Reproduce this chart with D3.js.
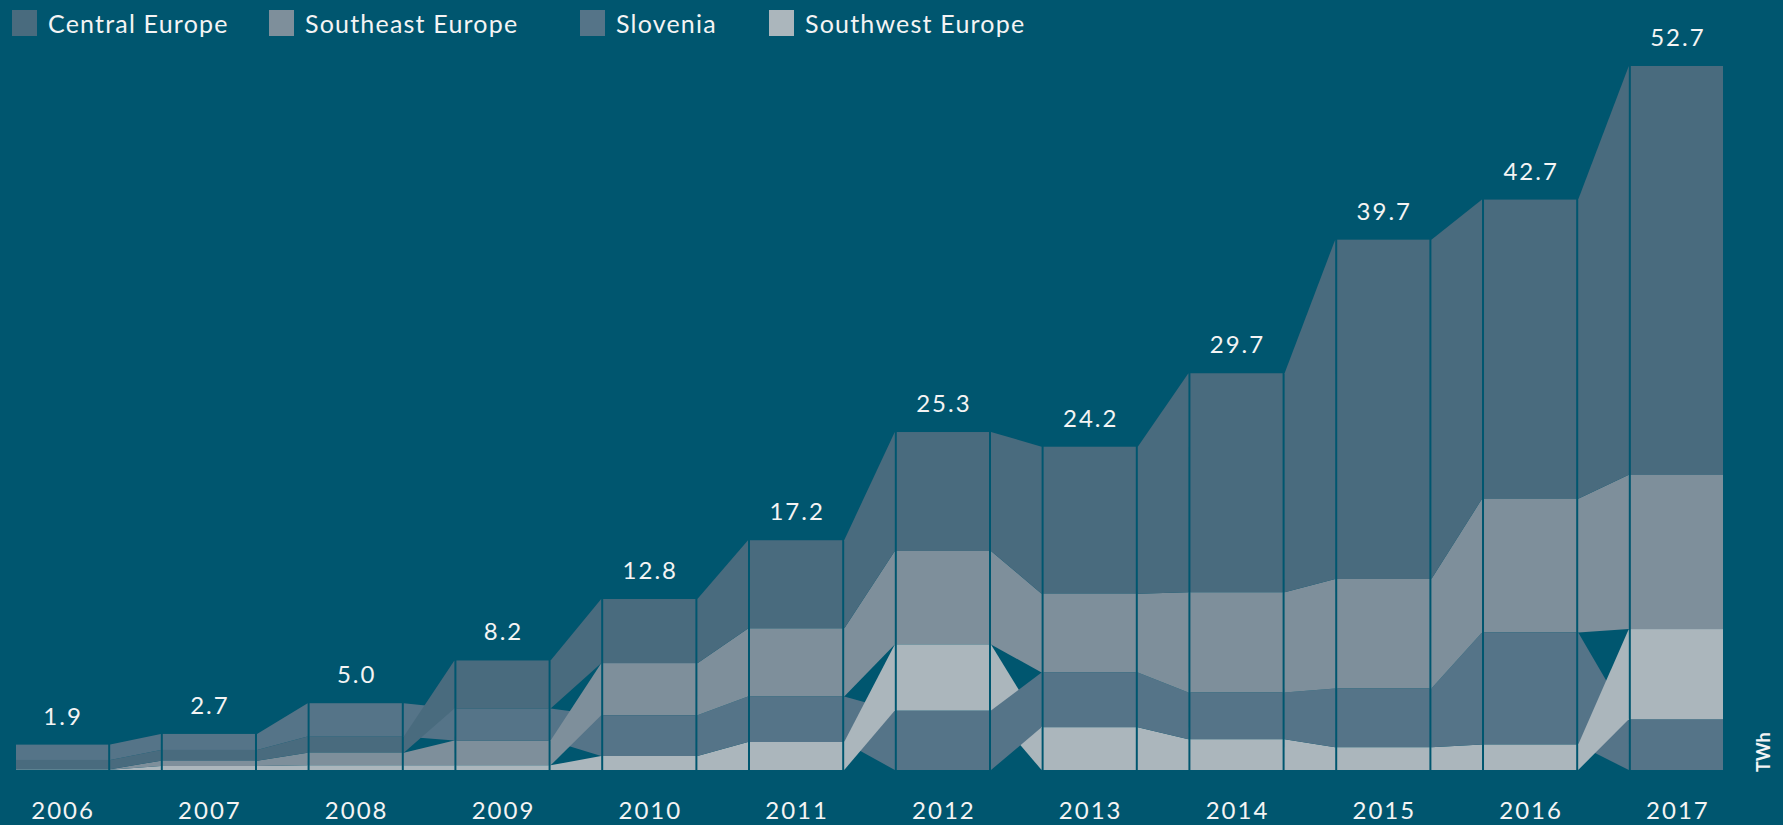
<!DOCTYPE html>
<html>
<head>
<meta charset="utf-8">
<script src="https://cdn.jsdelivr.net/npm/d3@7"></script>
<style>
  html, body { margin: 0; padding: 0; background: #00566f; }
  svg { display: block; font-family: Lato, 'Open Sans', sans-serif; }
</style>
</head>
<body>
<div class="graphs"></div>
<script>
var years = ['2006', '2007', '2008', '2009', '2010', '2011', '2012', '2013', '2014', '2015', '2016', '2017'];
var seriesNames = ['Central Europe', 'Southeast Europe', 'Slovenia', 'Southwest Europe'];
var centralEurope = [0.7, 0.8, 1.2, 3.6, 4.8, 6.6, 8.9, 11.0, 16.4, 25.4, 22.4, 30.6];
var southeastEurope = [0.03, 0.4, 0.95, 1.85, 3.9, 5.1, 7.0, 5.9, 7.5, 8.2, 10.0, 11.55];
var slovenia = [1.15, 1.2, 2.5, 2.4, 3.05, 3.4, 4.45, 4.1, 3.5, 4.4, 8.4, 3.8];
var southwestEurope = [0.02, 0.3, 0.35, 0.35, 1.05, 2.1, 4.95, 3.2, 2.3, 1.7, 1.9, 6.75];
var totals = [1.9, 2.7, 5.0, 8.2, 12.8, 17.2, 25.3, 24.2, 29.7, 39.7, 42.7, 52.7];
var unitLabel = 'TWh';

var colors = ['#496b7e', '#7e8f9b', '#557488', '#abb6bc'];
var values = [centralEurope, southeastEurope, slovenia, southwestEurope];

var width = 1783;
var height = 825;

var svg = d3.select('.graphs').append('svg')
  .attr('width', width)
  .attr('height', height);

svg.append('rect')
  .attr('width', width)
  .attr('height', height)
  .attr('fill', '#00566f');

var x = d3.scaleBand()
  .domain(years)
  .range([16, 1723])
  .paddingInner(0.372)
  .paddingOuter(0);

var y = d3.scaleLinear()
  .domain([0, d3.max(totals)])
  .range([770, 66]);

// stack each year smallest at the bottom
var stacks = years.map(function (yr, i) {
  var order = d3.range(seriesNames.length).sort(function (a, b) {
    return values[a][i] - values[b][i];
  });
  var pos = {};
  var acc = 0;
  order.forEach(function (s) {
    pos[s] = { y0: acc, y1: acc + values[s][i] };
    acc += values[s][i];
  });
  return { order: order, pos: pos };
});

// connecting bands between years, drawn in next year's stack order
var gap = 2;
var bands = [];
for (var i = 0; i < years.length - 1; i++) {
  stacks[i + 1].order.forEach(function (s) {
    bands.push({ i: i, s: s });
  });
}

svg.append('g').selectAll('polygon')
  .data(bands)
  .enter()
  .append('polygon')
  .attr('fill', function (d) { return colors[d.s]; })
  .attr('points', function (d) {
    var a = stacks[d.i].pos[d.s];
    var b = stacks[d.i + 1].pos[d.s];
    var x0 = x(years[d.i]) + x.bandwidth() + gap;
    var x1 = x(years[d.i + 1]) - gap;
    return [
      [x0, y(a.y1)], [x1, y(b.y1)], [x1, y(b.y0)], [x0, y(a.y0)]
    ].map(function (p) { return p.join(','); }).join(' ');
  });

// bar segments
var segs = [];
years.forEach(function (yr, i) {
  d3.range(seriesNames.length).forEach(function (s) {
    segs.push({ i: i, s: s });
  });
});

svg.append('g').selectAll('rect')
  .data(segs)
  .enter()
  .append('rect')
  .attr('x', function (d) { return x(years[d.i]); })
  .attr('width', x.bandwidth())
  .attr('y', function (d) { return y(stacks[d.i].pos[d.s].y1); })
  .attr('height', function (d) {
    var p = stacks[d.i].pos[d.s];
    return y(p.y0) - y(p.y1);
  })
  .attr('fill', function (d) { return colors[d.s]; });

// totals
svg.append('g').selectAll('text')
  .data(totals)
  .enter()
  .append('text')
  .attr('x', function (d, i) { return x(years[i]) + x.bandwidth() / 2 + 1; })
  .attr('y', function (d) { return y(d) - 20; })
  .attr('text-anchor', 'middle')
  .attr('fill', '#f4f4f4')
  .attr('font-size', 24)
  .attr('letter-spacing', 2)
  .text(function (d) { return d.toFixed(1); });

// year axis
var xAxis = svg.append('g')
  .attr('transform', 'translate(1,' + 819 + ')')
  .call(d3.axisBottom(x).tickSize(0).tickPadding(0));
xAxis.select('.domain').remove();
xAxis.selectAll('text')
  .attr('dy', 0)
  .attr('y', 0)
  .attr('fill', '#f4f4f4')
  .attr('font-size', 24)
  .attr('letter-spacing', 2)
  .attr('font-family', 'Lato, sans-serif');

// unit label
svg.append('text')
  .attr('transform', 'translate(1770,772) rotate(-90)')
  .attr('fill', '#f4f4f4')
  .attr('font-size', 18)
  .attr('font-weight', 'bold')
  .text(unitLabel);

// legend
var legendX = [12, 269, 580, 769];
var legend = svg.append('g').selectAll('g')
  .data(seriesNames)
  .enter()
  .append('g')
  .attr('transform', function (d, i) { return 'translate(' + legendX[i] + ',10)'; });

legend.append('rect')
  .attr('width', 25)
  .attr('height', 26)
  .attr('fill', function (d, i) { return colors[i]; });

legend.append('text')
  .attr('x', 36)
  .attr('y', 23)
  .attr('fill', '#f4f4f4')
  .attr('font-size', 25)
  .attr('letter-spacing', 1.2)
  .text(function (d) { return d; });
</script>
</body>
</html>
